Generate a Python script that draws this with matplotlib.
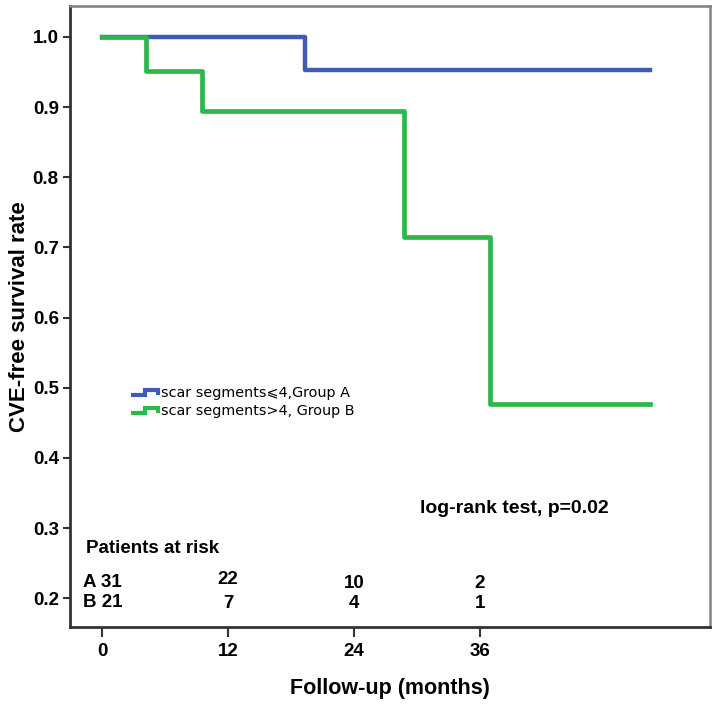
import matplotlib
matplotlib.use("Agg")
import matplotlib.pyplot as plt
from matplotlib.legend_handler import HandlerBase
from matplotlib.lines import Line2D

# Kaplan-Meier steps (months, survival)
time_a = [0, 19.3, 52.2]
surv_a = [1.0, 0.953, 0.953]
time_b = [0, 4.2, 9.5, 28.8, 37.0, 52.2]
surv_b = [1.0, 0.952, 0.895, 0.715, 0.477, 0.477]

labels = ["scar segments\u2a7d4,Group A", "scar segments>4, Group B"]
colors = ["#3e5bb6", "#2eb84b"]

risk_times = [0, 12, 24, 36]
risk_a = [31, 22, 10, 2]
risk_b = [21, 7, 4, 1]

bold_font = ["Liberation Sans", "DejaVu Sans"]


class StepHandler(HandlerBase):
    # little step icon like the SPSS legend
    def create_artists(self, legend, orig, xd, yd, w, h, fontsize, trans):
        lo = yd + 0.2 * h
        hi = yd + 0.65 * h
        xs = [xd, xd + 0.5 * w, xd + 0.5 * w, xd + w, xd + w]
        ys = [lo, lo, hi, hi, lo - 0.05 * h]
        ln = Line2D(xs, ys, color=orig.get_color(), lw=3, solid_joinstyle="miter",
                    solid_capstyle="butt", transform=trans)
        return [ln]


fig = plt.figure(figsize=(7.17, 7.08), dpi=100)
ax = fig.add_axes([0.0976, 0.1144, 0.8924, 0.8771])

la, = ax.step(time_a, surv_a, where="post", color=colors[0], lw=3.2, label=labels[0])
lb, = ax.step(time_b, surv_b, where="post", color=colors[1], lw=3.4, label=labels[1])

ax.set_xlim(-3.05, 57.9)
ax.set_ylim(0.159, 1.044)
ax.set_xticks(risk_times)
ax.set_yticks([0.2, 0.3, 0.4, 0.5, 0.6, 0.7, 0.8, 0.9, 1.0])
ax.set_yticklabels(["0.2", "0.3", "0.4", "0.5", "0.6", "0.7", "0.8", "0.9", "1.0"])

for lbl in ax.get_xticklabels() + ax.get_yticklabels():
    lbl.set_family(bold_font)
    lbl.set_fontweight("bold")
    lbl.set_fontsize(13.5)
ax.tick_params(axis="y", direction="out", length=5, width=1.5, color="#333333", pad=3)
ax.tick_params(axis="x", direction="out", length=7.5, width=1.5, color="#333333", pad=4)

for s in ["left", "bottom"]:
    ax.spines[s].set_linewidth(2)
    ax.spines[s].set_color("#333333")
for s in ["top", "right"]:
    ax.spines[s].set_linewidth(1.8)
    ax.spines[s].set_color("#808080")

ax.set_ylabel("CVE-free survival rate", family=bold_font, fontweight="bold", fontsize=16)
ax.yaxis.set_label_coords(-0.0625, 0.5)
ax.set_xlabel("Follow-up (months)", family=bold_font, fontweight="bold", fontsize=15.5)
ax.xaxis.set_label_coords(0.5, -0.082)

leg = ax.legend(handles=[la, lb], labels=labels, handler_map={Line2D: StepHandler()},
                loc="upper left", bbox_to_anchor=(0.086, 0.398), frameon=False,
                prop={"family": "DejaVu Sans", "size": 10.4},
                handlelength=1.9, handletextpad=0.2, labelspacing=0.3, borderaxespad=0)

ax.text(39.3, 0.328, "log-rank test, p=0.02", family=bold_font, fontweight="bold",
        fontsize=14, ha="center", va="center")
ax.text(-1.5, 0.264, "Patients at risk", family=bold_font, fontweight="bold",
        fontsize=13.5, ha="left", va="baseline")
ax.text(-1.85, 0.2154, f"A {risk_a[0]}", family=bold_font, fontweight="bold",
        fontsize=13.5, ha="left", va="baseline")
ax.text(-1.85, 0.1869, f"B {risk_b[0]}", family=bold_font, fontweight="bold",
        fontsize=13.5, ha="left", va="baseline")
for i in range(1, len(risk_times)):
    t = risk_times[i]
    ax.text(t, 0.221 if i == 1 else 0.214, str(risk_a[i]), family=bold_font,
            fontweight="bold", fontsize=13.5, ha="center", va="baseline")
    ax.text(t, 0.1855, str(risk_b[i]), family=bold_font, fontweight="bold",
            fontsize=13.5, ha="center", va="baseline")

fig.savefig("out.png", dpi=100)
